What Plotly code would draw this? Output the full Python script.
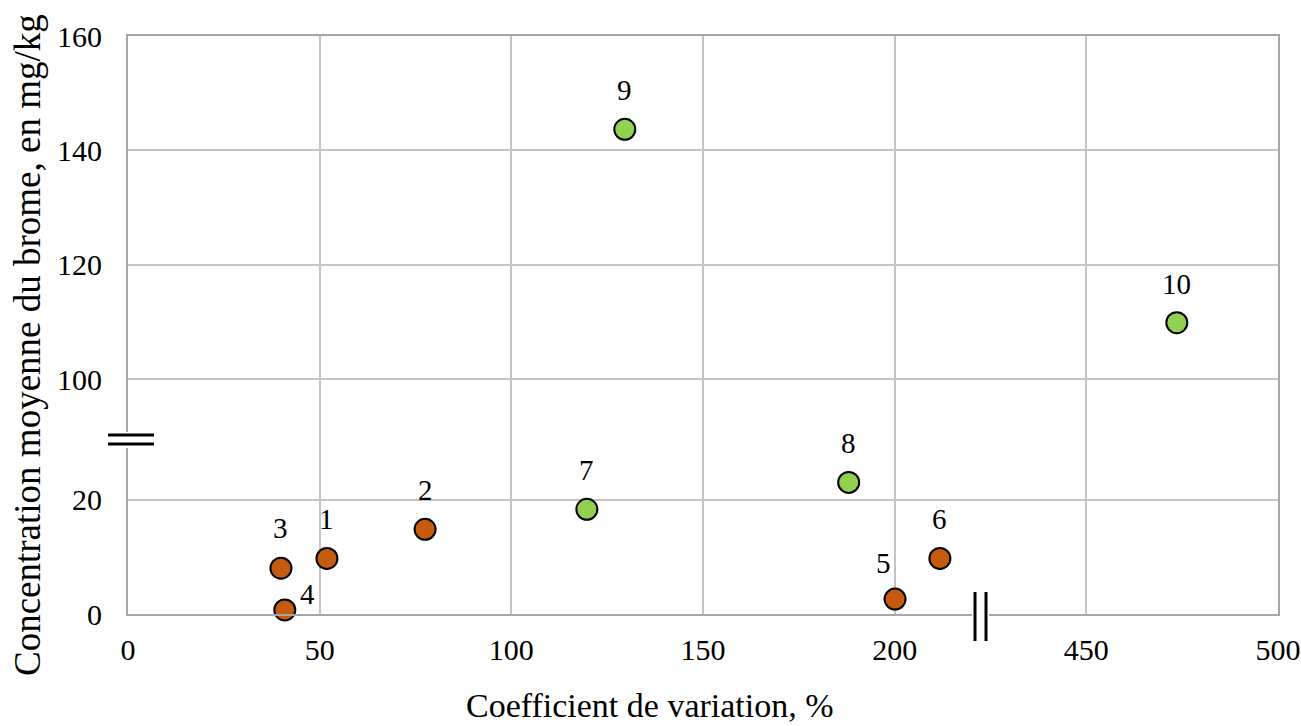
import plotly.graph_objects as go

# ---- data ----
labels = ["1", "2", "3", "4", "5", "6", "7", "8", "9", "10"]
cv = [51.9, 77.5, 39.9, 40.9, 200.1, 211.8, 119.7, 188.0, 129.6, 473.6]
conc = [9.7, 14.8, 8.0, 0.7, 2.6, 9.7, 18.3, 23.0, 143.7, 109.9]
groups = ["a", "a", "a", "a", "a", "a", "b", "b", "b", "b"]
x_ticks = [0, 50, 100, 150, 200, 450, 500]
y_ticks = [0, 20, 100, 120, 140, 160]
x_title = "Coefficient de variation, %"
y_title = "Concentration moyenne du brome, en mg/kg"

colors = {"a": "#C55A11", "b": "#92D050"}

# broken-axis transforms
def tx(v):
    return v if v <= 250 else v - 200

def ty(v):
    return v if v <= 30 else v - 59

label_shift = {"4": (23, 16), "5": (-12, 36), "3": (0, 40)}

# plot-area geometry in pixels (for decorations only)
L, R, T, B = 128, 1278, 36, 614
W, H = R - L, B - T
def px_x(p):
    return (p - L) / W
def px_y(p):
    return (B - p) / H

fig = go.Figure()
for g in ["a", "b"]:
    idx = [i for i, gg in enumerate(groups) if gg == g]
    fig.add_trace(go.Scatter(
        x=[tx(cv[i]) for i in idx],
        y=[ty(conc[i]) for i in idx],
        mode="markers",
        marker=dict(size=21, color=colors[g], line=dict(color="black", width=2)),
        showlegend=False, hoverinfo="skip", cliponaxis=False,
    ))

for i, lab in enumerate(labels):
    xs, ys = label_shift.get(lab, (0, 39))
    fig.add_annotation(x=tx(cv[i]), y=ty(conc[i]), text=lab, showarrow=False,
                       xshift=xs, yshift=ys,
                       font=dict(family="Liberation Serif", size=29, color="black"))

# axis titles
fig.add_annotation(xref="paper", yref="paper", x=px_x(650), y=px_y(705),
                   text=x_title, showarrow=False, xanchor="center", yanchor="middle",
                   font=dict(family="Liberation Serif", size=34, color="black"))
fig.add_annotation(xref="paper", yref="paper", x=px_x(27), y=px_y(345),
                   text=y_title, showarrow=False, textangle=-90,
                   xanchor="center", yanchor="middle",
                   font=dict(family="Liberation Serif", size=37, color="black"))

# break marks
line_k = dict(color="black", width=3)
fig.add_shape(type="rect", xref="paper", yref="paper", x0=px_x(124), x1=px_x(133),
              y0=px_y(448), y1=px_y(432),
              fillcolor="white", line=dict(width=0), layer="above")
for py in (435, 444):
    fig.add_shape(type="line", xref="paper", yref="paper",
                  x0=px_x(108), x1=px_x(154), y0=px_y(py), y1=px_y(py),
                  line=line_k, layer="above")
fig.add_shape(type="rect", xref="paper", yref="paper",
              x0=px_x(972), x1=px_x(989), y0=px_y(618), y1=px_y(610),
              fillcolor="white", line=dict(width=0), layer="above")
for p in (975, 986):
    fig.add_shape(type="line", xref="paper", yref="paper",
                  x0=px_x(p), x1=px_x(p), y0=px_y(641), y1=px_y(592),
                  line=line_k, layer="above")

fig.update_layout(
    width=1301, height=726,
    margin=dict(l=L, r=1301 - R, t=T, b=726 - B),
    plot_bgcolor="white", paper_bgcolor="white",
    font=dict(family="Liberation Serif", color="black"),
    xaxis=dict(
        range=[0, 300], tickvals=[tx(v) for v in x_ticks], ticktext=[str(v) for v in x_ticks],
        showgrid=True, gridcolor="#c4c4c4", gridwidth=1.5, zeroline=False,
        showline=True, linecolor="#a6a6a6", linewidth=2, mirror=True,
        ticks="outside", ticklen=8, tickcolor="rgba(0,0,0,0)",
        tickfont=dict(size=30), automargin=False,
    ),
    yaxis=dict(
        range=[0, 101], tickvals=[ty(v) for v in y_ticks], ticktext=[str(v) for v in y_ticks],
        showgrid=True, gridcolor="#c4c4c4", gridwidth=1.5, zeroline=False,
        showline=True, linecolor="#a6a6a6", linewidth=2, mirror=True,
        ticks="outside", ticklen=18, tickcolor="rgba(0,0,0,0)",
        tickfont=dict(size=30), automargin=False,
    ),
)

fig.write_html("out.html", config={"displayModeBar": False},
               post_script="document.body.style.margin='0';")
